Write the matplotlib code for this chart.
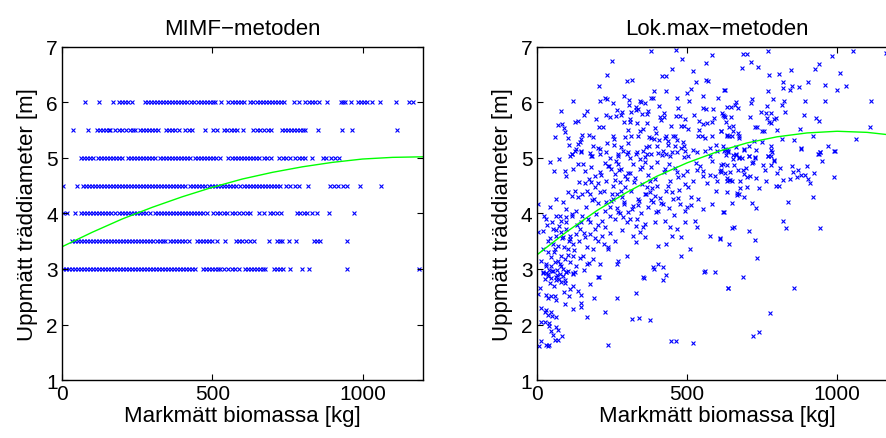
import matplotlib
matplotlib.use("Agg")
import matplotlib.pyplot as plt

plt.rcParams['font.family'] = ['Liberation Sans', 'DejaVu Sans']

# MIMF: measured diameters come in 0.5 m steps, biomass [kg] per step
mimf_levels = [6.0, 5.5, 5.0, 4.5, 4.0, 3.5, 3.0]
mimf_x = [
    [77, 124, 171, 188, 199, 210, 221, 232, 277, 287, 297, 307, 317, 327, 337, 347, 357, 367, 377, 387,
     397, 407, 417, 428, 438, 454, 464, 474, 484, 494, 504, 510, 529, 554, 564, 574, 584, 594, 604, 627,
     637, 648, 658, 668, 679, 689, 699, 709, 719, 729, 738, 771, 788, 810, 821, 832, 843, 854, 882, 927,
     935, 943, 962, 985, 995, 1005, 1015, 1032, 1058, 1113, 1154, 1169],
    [38, 86, 115, 125, 135, 145, 155, 160, 177, 188, 199, 213, 227, 235, 243, 260, 270, 280, 290, 300,
     310, 321, 347, 357, 367, 377, 388, 410, 421, 432, 477, 504, 515, 538, 549, 562, 572, 582, 602, 636,
     648, 660, 673, 684, 696, 732, 742, 752, 762, 772, 782, 792, 802, 810, 851, 932, 965, 1115],
    [62, 72, 83, 93, 104, 121, 131, 141, 151, 161, 171, 181, 191, 199, 221, 231, 241, 251, 261, 271,
     281, 291, 301, 310, 327, 337, 347, 357, 367, 377, 387, 397, 407, 417, 427, 443, 453, 463, 473, 483,
     493, 503, 513, 527, 554, 564, 574, 584, 594, 604, 614, 624, 634, 644, 654, 671, 683, 695, 721, 734,
     747, 760, 776, 788, 799, 810, 832, 869, 880, 895, 908, 921],
    [4, 49, 71, 81, 91, 101, 111, 121, 131, 141, 151, 161, 171, 181, 191, 199, 210, 220, 230, 240,
     250, 260, 270, 280, 290, 300, 310, 320, 330, 340, 350, 360, 370, 380, 390, 400, 410, 427, 437, 447,
     457, 467, 477, 488, 499, 509, 519, 529, 539, 549, 559, 569, 579, 593, 604, 614, 624, 634, 644, 654,
     664, 674, 684, 694, 704, 714, 727, 747, 760, 775, 788, 818, 891, 905, 920, 935, 949, 991, 1062],
    [4, 15, 43, 62, 72, 82, 92, 102, 112, 122, 132, 142, 152, 162, 177, 191, 201, 211, 221, 231,
     241, 251, 261, 271, 281, 293, 310, 320, 330, 340, 350, 360, 370, 380, 390, 400, 410, 420, 430, 440,
     449, 460, 470, 482, 504, 515, 527, 538, 549, 565, 577, 590, 602, 614, 627, 654, 671, 691, 703, 716,
     729, 782, 793, 804, 815, 832, 849, 888, 971],
    [32, 42, 52, 62, 72, 82, 92, 102, 112, 122, 132, 142, 152, 162, 172, 182, 192, 202, 212, 222,
     232, 242, 252, 262, 272, 282, 292, 302, 315, 327, 335, 343, 360, 370, 380, 390, 400, 410, 421, 449,
     459, 469, 479, 489, 499, 515, 543, 579, 589, 599, 612, 625, 638, 688, 716, 724, 732, 754, 780, 840,
     850, 860, 947],
    [2, 12, 22, 32, 42, 52, 62, 72, 82, 92, 102, 112, 122, 132, 142, 152, 162, 172, 182, 192,
     202, 212, 222, 232, 242, 252, 262, 272, 282, 292, 302, 312, 322, 332, 342, 352, 362, 372, 382, 392,
     402, 412, 422, 432, 442, 469, 479, 489, 499, 509, 518, 527, 540, 552, 564, 576, 588, 610, 620, 630,
     640, 650, 660, 670, 677, 704, 715, 725, 735, 758, 799, 821, 947, 1188],
]

# Lok.max: (biomass kg, diameter m)
lok_x = [380, 463, 582, 483, 251, 562, 450, 520, 234, 417, 431, 316, 299, 529, 564, 569, 206, 513, 391, 431,
         624, 499, 228, 234, 121, 210, 290, 308, 344, 347, 360, 379, 387, 467, 507, 604, 554, 255, 408, 308,
         284, 331, 338, 330, 315, 80, 169, 159, 268, 231, 243, 280, 309, 349, 366, 423, 423, 409, 463, 477,
         553, 564, 587, 617, 624, 634, 70, 83, 90, 128, 138, 198, 209, 291, 311, 366, 354, 344, 393, 482,
         492, 493, 541, 554, 566, 582, 541, 612, 96, 60, 105, 151, 175, 186, 254, 258, 293, 313, 336, 373,
         379, 391, 406, 427, 432, 454, 462, 438, 466, 486, 538, 551, 582, 632, 107, 136, 143, 149, 186, 205,
         233, 258, 280, 304, 363, 374, 399, 436, 461, 479, 492, 519, 577, 596, 118, 130, 146, 177, 183, 211,
         232, 271, 299, 334, 360, 380, 416, 430, 449, 491, 578,
         769, 687, 699, 1052, 984, 1163, 714, 940, 684, 736, 926, 846, 1009, 772, 808, 819, 849, 821, 842, 873,
         902, 961, 1028, 999, 627, 770, 716, 662, 714, 787, 824, 818, 894, 961, 1112, 647, 671, 746, 766, 763,
         779, 828, 890, 621, 627, 647, 711, 766, 791, 797, 931, 941, 773, 780, 630, 652, 728, 732, 749, 756,
         801, 878, 1110, 614, 654, 632, 641, 649, 671, 672, 674, 723, 750, 818, 856, 921, 1062, 621, 627, 632,
         638, 664, 691, 707, 780, 779, 881, 969, 729, 937, 943, 991, 654, 663, 673, 708, 727, 769, 780,
         623, 636, 662, 691, 708, 728, 769, 782, 879, 943, 938, 992, 613, 634, 654, 673, 721, 752, 779, 791,
         811, 901, 922, 871, 854, 893, 613, 627, 643, 669, 687, 690, 697, 710, 730, 801, 842, 868, 902, 763,
         989, 634, 634, 649, 640, 678, 701, 676, 796, 808, 634, 666, 668, 691, 921, 649, 718, 731, 838, 624,
         820, 831, 942, 651, 656, 708, 611, 727, 639, 733, 686, 636, 856, 776, 741, 719,
         21, 30, 38, 51, 68, 79, 88, 97, 104, 121, 157, 208, 357, 390, 429, 558, 421, 29, 49, 63,
         74, 82, 93, 46, 57, 10, 4, 32, 38, 49, 60, 66, 90, 107, 112, 121, 138, 147, 177, 190,
         268, 330, 637, 13, 27, 30, 38, 49, 52, 66, 93, 121, 149, 149, 168, 227, 316, 341, 377, 16,
         27, 41, 41, 47, 63, 71, 54, 86, 62, 71, 13, 8, 32, 38, 41, 236, 446, 463, 519,
         119, 127, 149, 182, 210, 271, 288, 304, 332, 354, 366, 404, 421, 443, 466, 493, 504, 532, 560, 599,
         43, 75, 110, 243, 263, 310, 344, 57, 94, 97, 121, 138, 155, 160, 182, 193, 210, 227, 238, 249,
         260, 271, 282, 293, 310, 321, 344, 360, 382, 399, 427, 441, 466, 499, 532, 555, 577, 593, 610, 621,
         141, 182, 204, 232, 254, 277, 299, 323, 349, 366, 377, 399, 443, 471, 493, 521, 555, 599,
         5, 46, 63, 88, 97, 104, 116, 127, 138, 152, 166, 177, 190, 210, 232, 243, 254, 268, 282, 290,
         304, 321, 338, 360, 377, 386, 393, 404, 421, 432, 454, 477, 499, 538, 555, 582, 621, 32, 66, 82,
         99, 119, 132, 149, 171, 199, 216, 227, 243, 260, 271, 288, 310, 332, 360, 393, 427, 443, 466, 493,
         527, 532,
         4, 21, 38, 54, 66, 74, 82, 88, 99, 110, 121, 132, 143, 160, 177, 193, 204, 216, 238, 271,
         299, 332, 343, 360, 404, 432, 449, 482, 510, 577, 610, 482, 21, 38, 49, 60, 71, 82, 93, 104,
         110, 121, 132, 154, 166, 188, 210, 238, 188, 21, 38, 54, 66, 77, 88, 99, 121, 204, 266, 354,
         388, 404, 421, 560, 593, 16, 32, 49, 60,
         160, 175, 195, 215, 225, 240, 252, 262, 275, 285, 295, 305, 315, 328, 340, 352, 365, 372, 385, 395,
         412, 425, 438, 450, 462, 475, 488, 505, 515, 530, 165, 185, 205, 228, 248, 266, 278, 292, 318, 336,
         348, 370, 380, 398, 415, 440, 458, 470, 495, 512,
         25, 35, 45, 52, 58, 65, 72, 78, 85, 92, 98, 105, 112, 118, 125, 135, 142, 152, 158, 168,
         178, 30, 42, 55, 68, 82, 95, 108, 128, 145, 175, 195, 205, 225, 245, 260, 285, 300, 320, 335,
         355,
         545, 568, 585, 598, 615, 630, 645, 658, 672, 685, 700, 715, 740, 760, 790, 820, 850, 880, 910, 950,
         220, 265, 305, 335, 372, 398, 415, 448, 472, 505, 525, 560, 590, 640, 660]
lok_y = [6.92, 6.95, 6.86, 6.78, 6.74, 6.71, 6.60, 6.56, 6.49, 6.48, 6.48, 6.40, 6.38, 6.37, 6.40, 6.38, 6.29, 6.25, 6.20, 6.20,
         6.23, 6.17, 6.08, 6.06, 6.03, 6.02, 6.12, 6.05, 6.03, 6.00, 5.99, 6.08, 6.08, 6.08, 6.02, 6.08, 6.11, 5.98, 5.94, 5.96,
         5.83, 5.91, 5.88, 5.86, 5.83, 5.84, 5.85, 5.77, 5.86, 5.78, 5.74, 5.77, 5.70, 5.79, 5.79, 5.80, 5.73, 5.73, 5.76, 5.75,
         5.89, 5.88, 5.88, 5.81, 5.75, 5.92, 5.59, 5.61, 5.53, 5.65, 5.67, 5.70, 5.56, 5.65, 5.65, 5.62, 5.52, 5.49, 5.53, 5.57,
         5.57, 5.70, 5.66, 5.61, 5.62, 5.65, 5.51, 5.49, 5.47, 5.37, 5.35, 5.41, 5.41, 5.37, 5.40, 5.34, 5.37, 5.39, 5.39, 5.38,
         5.35, 5.34, 5.33, 5.35, 5.40, 5.40, 5.39, 5.31, 5.33, 5.29, 5.40, 5.40, 5.39, 5.41, 5.23, 5.25, 5.29, 5.34, 5.22, 5.17,
         5.27, 5.23, 5.19, 5.27, 5.19, 5.21, 5.21, 5.23, 5.22, 5.17, 5.22, 5.14, 5.17, 5.23, 5.07, 5.16, 5.10, 5.08, 5.03, 5.07,
         5.10, 5.04, 5.07, 5.10, 5.01, 5.07, 5.05, 5.07, 5.10, 5.01, 5.03,
         6.93, 6.87, 6.87, 6.93, 6.84, 6.89, 6.73, 6.69, 6.62, 6.63, 6.61, 6.58, 6.53, 6.50, 6.52, 6.36, 6.30, 6.26, 6.22, 6.27,
         6.37, 6.32, 6.29, 6.22, 6.22, 6.20, 6.06, 6.00, 5.98, 6.06, 6.03, 5.95, 6.03, 6.03, 6.03, 5.92, 5.89, 5.83, 5.94, 5.80,
         5.80, 5.82, 5.77, 5.77, 5.73, 5.74, 5.73, 5.71, 5.70, 5.72, 5.71, 5.67, 5.64, 5.63, 5.64, 5.57, 5.56, 5.56, 5.49, 5.49,
         5.50, 5.52, 5.56, 5.49, 5.49, 5.40, 5.40, 5.40, 5.44, 5.39, 5.35, 5.31, 5.28, 5.34, 5.33, 5.39, 5.34, 5.22, 5.16, 5.15,
         5.13, 5.20, 5.16, 5.22, 5.22, 5.15, 5.17, 5.22, 5.15, 5.07, 5.10, 5.13, 5.06, 5.07, 5.01, 5.04, 5.01, 5.03, 5.04,
         5.13, 5.11, 5.05, 5.14, 5.04, 4.99, 5.03, 5.10, 5.16, 5.11, 5.07, 5.13, 4.88, 4.87, 4.98, 4.99, 4.92, 4.88, 4.88, 4.96,
         4.82, 4.85, 4.73, 4.79, 4.75, 4.69, 4.79, 4.73, 4.74, 4.78, 4.79, 4.71, 4.81, 4.68, 4.64, 4.72, 4.62, 4.66, 4.62, 4.59,
         4.66, 4.63, 4.59, 4.58, 4.61, 4.59, 4.48, 4.45, 4.50, 4.50, 4.38, 4.36, 4.33, 4.30, 4.30, 4.19, 4.19, 4.10, 4.21, 4.02,
         3.86, 3.74, 3.74, 3.74, 3.76, 3.68, 3.55, 3.53, 3.45, 3.20, 2.86, 2.66, 2.66, 2.20, 1.86, 1.80,
         2.93, 2.93, 2.91, 2.97, 2.98, 2.91, 2.88, 2.94, 2.97, 2.92, 2.99, 2.86, 2.84, 3.00, 2.90, 2.95, 2.80, 2.82, 2.83, 2.80,
         2.82, 2.76, 2.75, 2.75, 2.70, 2.65, 2.55, 2.54, 2.48, 2.51, 2.52, 2.44, 2.59, 2.52, 2.64, 2.69, 2.61, 2.53, 2.73, 2.48,
         2.47, 2.56, 2.66, 2.29, 2.22, 2.27, 2.17, 2.23, 2.16, 2.13, 2.37, 2.28, 2.38, 2.31, 2.14, 2.22, 2.10, 2.12, 2.08, 2.05,
         2.05, 2.02, 1.97, 1.89, 1.95, 1.91, 1.81, 1.80, 1.73, 1.73, 1.71, 1.61, 1.63, 1.61, 1.63, 1.63, 1.71, 1.71, 1.66,
         5.07, 5.13, 5.13, 5.04, 5.16, 5.07, 5.13, 5.10, 5.07, 5.13, 5.07, 5.09, 5.13, 5.04, 5.10, 5.13, 5.04, 5.10, 5.13, 5.13,
         4.93, 4.98, 5.03, 4.99, 4.95, 4.99, 4.98, 4.77, 4.77, 4.68, 4.80, 4.89, 4.89, 4.77, 4.83, 4.68, 4.74, 4.91, 4.86, 4.80,
         4.71, 4.89, 4.80, 4.68, 4.73, 4.89, 4.80, 4.92, 4.83, 4.92, 4.80, 4.89, 4.74, 4.77, 4.79, 4.77, 4.69, 4.68, 4.77, 4.89,
         4.56, 4.57, 4.55, 4.59, 4.50, 4.56, 4.62, 4.56, 4.53, 4.47, 4.59, 4.50, 4.59, 4.65, 4.53, 4.59, 4.68, 4.59,
         4.17, 4.11, 4.26, 4.20, 4.08, 4.38, 4.32, 4.41, 4.29, 4.35, 4.41, 4.35, 4.26, 4.38, 4.20, 4.11, 4.26, 4.35, 4.41, 4.17,
         4.02, 4.14, 4.26, 4.35, 4.38, 4.20, 4.32, 4.05, 4.17, 4.41, 4.26, 4.17, 4.11, 4.26, 4.08, 4.17, 4.02, 3.90, 3.96, 3.87,
         3.93, 3.99, 4.05, 3.84, 3.90, 3.99, 3.87, 3.75, 3.96, 3.90, 4.02, 3.93, 3.90, 3.78, 3.81, 3.84, 3.87, 3.75, 3.72, 3.84,
         3.87, 3.75,
         3.66, 3.69, 3.51, 3.72, 3.60, 3.78, 3.66, 3.57, 3.72, 3.54, 3.45, 3.63, 3.72, 3.57, 3.63, 3.72, 3.51, 3.60, 3.39, 3.15,
         3.24, 3.48, 3.66, 3.57, 3.42, 3.45, 3.60, 3.57, 3.36, 3.60, 3.54, 3.24, 3.36, 3.30, 3.21, 3.36, 3.42, 3.24, 3.18, 3.36,
         3.12, 3.24, 3.06, 3.24, 3.09, 3.18, 3.09, 3.36, 3.36, 2.94, 2.88, 2.97, 2.85, 3.09, 3.00, 2.94, 2.91, 2.85, 3.09, 2.85,
         3.03, 3.09, 3.03, 2.97, 2.94, 3.15, 3.09, 3.06, 3.12,
         4.55, 4.62, 4.48, 4.70, 4.40, 4.85, 4.35, 4.60, 4.78, 4.30, 4.48, 4.72, 4.40, 4.63, 4.22, 4.84, 4.35, 4.70, 4.45, 4.62,
         4.28, 4.75, 4.50, 4.38, 4.82, 4.42, 4.70, 4.48, 4.30, 4.90, 4.12, 4.25, 4.18, 4.05, 4.22, 4.10, 4.00, 4.20, 4.08, 4.15,
         4.00, 4.12, 4.25, 4.02, 4.18, 4.10, 3.98, 4.28, 4.05, 4.15,
         3.95, 3.80, 3.55, 3.85, 3.30, 3.70, 3.15, 3.95, 3.55, 3.40, 3.85, 3.25, 3.60, 3.95, 3.35, 3.80, 3.50, 3.95, 3.65, 3.40,
         3.85, 3.05, 2.98, 3.45, 2.90, 3.05, 2.80, 3.50, 2.95, 3.20, 3.10, 3.55, 3.80, 3.45, 3.65, 3.50, 3.70, 3.85, 3.60, 3.90,
         3.75,
         4.85, 4.55, 4.95, 4.40, 4.75, 5.05, 4.60, 4.88, 4.35, 5.00, 4.65, 4.90, 4.45, 4.78, 4.95, 4.60, 4.85, 4.70, 4.55, 4.95,
         5.55, 5.75, 5.50, 5.62, 5.85, 5.45, 5.68, 5.58, 5.90, 5.52, 5.78, 5.35, 5.72, 5.55, 5.95]

# fitted curves
fit_x = [0, 100, 200, 300, 400, 500, 600, 700, 800, 900, 1000, 1100, 1200]
mimf_fit = [3.40, 3.66, 3.90, 4.11, 4.30, 4.47, 4.62, 4.74, 4.84, 4.92, 4.98, 5.01, 5.02]
lok_fit = [3.25, 3.67, 4.05, 4.38, 4.67, 4.91, 5.11, 5.27, 5.38, 5.45, 5.48, 5.46, 5.40]

fig = plt.figure(figsize=(8.86, 4.39), dpi=100)
ax1 = fig.add_axes([0.070, 0.132, 0.407, 0.759])
ax2 = fig.add_axes([0.6057, 0.132, 0.407, 0.759])

mk = dict(marker='x', color='blue', s=8, linewidths=0.8)

for lev, xs in zip(mimf_levels, mimf_x):
    ax1.scatter(xs, [lev] * len(xs), **mk)
ax1.plot(fit_x, mimf_fit, color=(0, 1, 0), lw=1)

ax2.scatter(lok_x, lok_y, **mk)
ax2.plot(fit_x, lok_fit, color=(0, 1, 0), lw=1)

for ax, title in [(ax1, 'MIMF\u2212metoden'), (ax2, 'Lok.max\u2212metoden')]:
    ax.set_xlim(0, 1200)
    ax.set_ylim(1, 7)
    ax.set_xticks([0, 500, 1000])
    ax.set_yticks([1, 2, 3, 4, 5, 6, 7])
    ax.tick_params(direction='in', length=4, width=0.8, top=True, right=True, labelsize=15, pad=3)
    ax.set_title(title, fontsize=16, pad=9)
    ax.set_xlabel('Markmätt biomassa [kg]', fontsize=16, labelpad=1)
    ax.set_ylabel('Uppmätt träddiameter [m]', fontsize=16, labelpad=6)
    for sp in ax.spines.values():
        sp.set_linewidth(1)

fig.savefig('out.png', dpi=100)
